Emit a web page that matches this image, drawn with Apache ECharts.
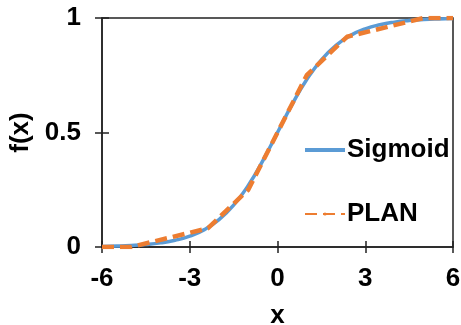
<!DOCTYPE html>
<html><head><meta charset="utf-8">
<script src="https://cdn.jsdelivr.net/npm/echarts@6/dist/echarts.min.js"></script>
<style>html,body{margin:0;padding:0;background:#fff}#c{width:461px;height:325px}</style>
</head><body><div id="c"></div>
<script>
var sigmoidX = [-6,-5.5,-5,-4.5,-4,-3.5,-3,-2.5,-2,-1.5,-1,-0.5,0,0.5,1,1.5,2,2.5,3,3.5,4,4.5,5,5.5,6];
var sigmoidY = [0.0025,0.0041,0.0067,0.0110,0.0180,0.0293,0.0474,0.0759,0.1192,0.1824,0.2689,0.3775,0.5,0.6225,0.7311,0.8176,0.8808,0.9241,0.9526,0.9707,0.9820,0.9890,0.9933,0.9959,0.9975];
var planX = [-6,-5,-2.375,-1,0,1,2.375,5,6];
var planY = [0,0,0.082,0.25,0.5,0.75,0.918,1,1];
var xTicks = [-6,-3,0,3,6];
var yTicks = [0,0.5,1];

function pairs(xs, ys){ return xs.map(function(x,i){return [x, ys[i]];}); }
var font = 'Liberation Sans, Arial, sans-serif';
var axCol = '#222';
var fs = 26;
var chart = echarts.init(document.getElementById('c'));
chart.setOption({
  animation: false,
  grid: {left:102, right:8, top:18, bottom:78, show:true, borderColor:axCol, borderWidth:1.5, outerBoundsMode:'none', containLabel:false},
  legend: {
    orient:'vertical', left:299, top:132, itemGap:38, itemWidth:40, itemHeight:4,
    textStyle:{fontFamily:font, fontWeight:'bold', fontSize:fs, color:'#000', padding:[0,0,0,-3]},
    data:[{name:'Sigmoid', icon:'rect'},{name:'PLAN'}]
  },
  xAxis: [{
    type:'value', min:-6, max:6, interval:3,
    name:'x', nameLocation:'middle', nameGap:56,
    nameTextStyle:{fontFamily:font, fontWeight:'bold', fontSize:fs, color:'#000'},
    axisLine:{show:true, onZero:false, lineStyle:{color:axCol, width:1.5}},
    axisTick:{show:true, length:6, lineStyle:{color:axCol, width:1.5}},
    axisLabel:{fontFamily:font, fontWeight:'bold', fontSize:fs, color:'#000', margin:19,
      formatter:function(v){return xTicks.indexOf(v)>=0 ? String(v) : '';}},
    splitLine:{show:false}
  },{
    type:'value', min:-6, max:6, interval:3, position:'bottom',
    axisLine:{show:false, onZero:false}, axisLabel:{show:false}, splitLine:{show:false},
    axisTick:{show:true, inside:true, length:6, lineStyle:{color:axCol, width:1.5}}
  }],
  yAxis: [{
    type:'value', min:0, max:1, interval:0.5,
    name:'f(x)', nameLocation:'middle', nameGap:58,
    nameTextStyle:{fontFamily:font, fontWeight:'bold', fontSize:fs, color:'#000'},
    axisLine:{show:true, onZero:false, lineStyle:{color:axCol, width:1.5}},
    axisTick:{show:true, length:7, lineStyle:{color:axCol, width:1.5}},
    axisLabel:{fontFamily:font, fontWeight:'bold', fontSize:fs, color:'#000', margin:21,
      formatter:function(v){return yTicks.indexOf(v)>=0 ? String(v) : '';}},
    splitLine:{show:false}
  },{
    type:'value', min:0, max:1, interval:0.5, position:'left',
    axisLine:{show:false, onZero:false}, axisLabel:{show:false}, splitLine:{show:false},
    axisTick:{show:true, inside:true, length:7, lineStyle:{color:axCol, width:1.5}}
  }],
  series: [{
    name:'Sigmoid', type:'line', smooth:true, symbol:'none',
    itemStyle:{color:'#5B9BD5'},
    lineStyle:{color:'#5B9BD5', width:3.5},
    data: pairs(sigmoidX, sigmoidY)
  },{
    name:'PLAN', type:'line', symbol:'none',
    itemStyle:{color:'#ED7D31'},
    lineStyle:{color:'#ED7D31', width:4.5, type:[12,6]},
    data: pairs(planX, planY)
  }]
});
</script></body></html>
